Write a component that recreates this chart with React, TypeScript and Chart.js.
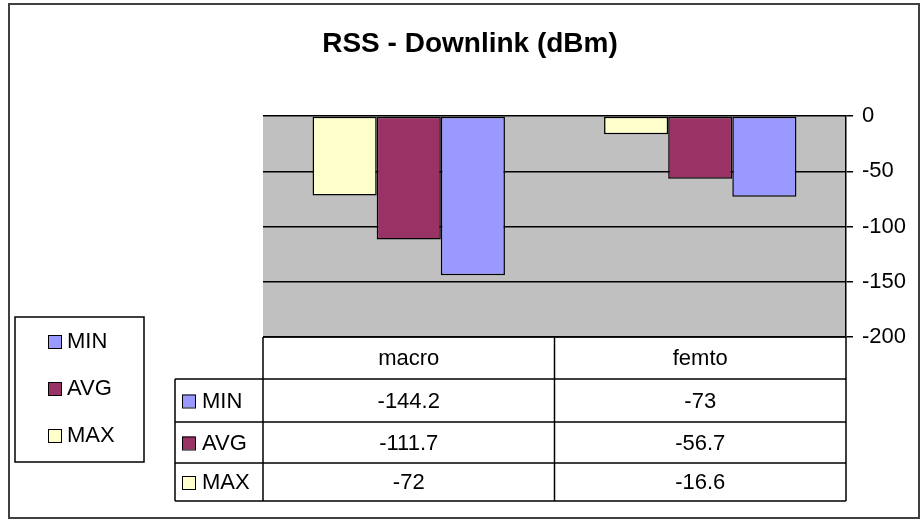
import React, { useEffect, useRef } from "react";
import { Chart, registerables } from "chart.js";

Chart.register(...registerables);

const chartTitle = "RSS - Downlink (dBm)";
const categories = ["macro", "femto"];
const seriesNames = ["MIN", "AVG", "MAX"];
const minValues = [-144.2, -73];
const avgValues = [-111.7, -56.7];
const maxValues = [-72, -16.6];
const yMin = -200;
const yMax = 0;
const yStep = 50;

const COLORS: Record<string, string> = {
  MIN: "#9999ff",
  AVG: "#993366",
  MAX: "#ffffcc",
};

const FONT = "Liberation Sans, Arial, sans-serif";

const drawPlugin = {
  id: "excelExtras",
  beforeDraw(chart: any) {
    const { ctx, chartArea } = chart;
    ctx.save();
    ctx.fillStyle = "#ffffff";
    ctx.fillRect(0, 0, chart.width, chart.height);
    ctx.fillStyle = "#c0c0c0";
    ctx.fillRect(chartArea.left, chartArea.top, chartArea.right - chartArea.left, chartArea.bottom - chartArea.top);
    ctx.restore();
  },
  afterDraw(chart: any) {
    const { ctx, chartArea } = chart;
    const x = chart.scales.x;
    ctx.save();

    // outer frame
    ctx.strokeStyle = "#404040";
    ctx.lineWidth = 2;
    ctx.strokeRect(9, 4, 910, 514);

    // title
    ctx.fillStyle = "#000";
    ctx.font = `bold 28px ${FONT}`;
    ctx.textAlign = "center";
    ctx.textBaseline = "middle";
    ctx.fillText(chartTitle, 470, 44);

    // data table
    const n = categories.length;
    const catW = (chartArea.right - chartArea.left) / n;
    const top = chartArea.bottom;
    const rowH = [42, 43, 41, 38];
    const rowTops: number[] = [top];
    for (const h of rowH) rowTops.push(rowTops[rowTops.length - 1] + h);
    const tableBottom = rowTops[rowTops.length - 1];
    const labelLeft = 175;

    ctx.strokeStyle = "#000";
    ctx.lineWidth = 1.5;
    ctx.beginPath();
    ctx.moveTo(chartArea.left, rowTops[0]);
    ctx.lineTo(chartArea.right, rowTops[0]);
    for (let i = 1; i < rowTops.length; i++) {
      ctx.moveTo(labelLeft, rowTops[i]);
      ctx.lineTo(chartArea.right, rowTops[i]);
    }
    ctx.moveTo(labelLeft, rowTops[1]);
    ctx.lineTo(labelLeft, tableBottom);
    for (let i = 0; i <= n; i++) {
      const vx = chartArea.left + i * catW;
      ctx.moveTo(vx, rowTops[0]);
      ctx.lineTo(vx, tableBottom);
    }
    ctx.stroke();

    ctx.font = `22px ${FONT}`;
    ctx.fillStyle = "#000";
    ctx.textAlign = "center";
    ctx.textBaseline = "middle";
    categories.forEach((c, i) => {
      const cx = x.getPixelForValue(i);
      ctx.fillText(c, cx, (rowTops[0] + rowTops[1]) / 2 + 1);
    });
    const valuesByName: Record<string, number[]> = {
      MIN: minValues,
      AVG: avgValues,
      MAX: maxValues,
    };
    seriesNames.forEach((name, r) => {
      const cy = (rowTops[r + 1] + rowTops[r + 2]) / 2 + 1;
      ctx.fillStyle = COLORS[name];
      ctx.fillRect(182, cy - 7, 13, 13);
      ctx.lineWidth = 1;
      ctx.strokeStyle = "#000";
      ctx.strokeRect(182.5, cy - 6.5, 13, 13);
      ctx.fillStyle = "#000";
      ctx.textAlign = "left";
      ctx.fillText(name, 202, cy);
      ctx.textAlign = "center";
      valuesByName[name].forEach((v, i) => {
        ctx.fillText(String(v), x.getPixelForValue(i), cy);
      });
    });

    // legend box
    ctx.lineWidth = 1.5;
    ctx.strokeStyle = "#000";
    ctx.strokeRect(15, 317, 129, 145);
    const legY = [342, 389, 436];
    seriesNames.forEach((name, i) => {
      const cy = legY[i];
      ctx.fillStyle = COLORS[name];
      ctx.fillRect(48, cy - 7, 13, 13);
      ctx.lineWidth = 1;
      ctx.strokeStyle = "#000";
      ctx.strokeRect(48.5, cy - 6.5, 13, 13);
      ctx.fillStyle = "#000";
      ctx.textAlign = "left";
      ctx.textBaseline = "middle";
      ctx.font = `22px ${FONT}`;
      ctx.fillText(name, 67, cy);
    });

    ctx.restore();
  },
};

export default function App() {
  const ref = useRef<HTMLCanvasElement | null>(null);
  useEffect(() => {
    if (!ref.current) return;
    const chart = new Chart(ref.current, {
      type: "bar",
      data: {
        labels: categories,
        datasets: [
          { label: "MAX", data: maxValues, backgroundColor: COLORS.MAX, borderColor: "#000", borderWidth: 1.5, borderSkipped: false },
          { label: "AVG", data: avgValues, backgroundColor: COLORS.AVG, borderColor: "#000", borderWidth: 1.5, borderSkipped: false },
          { label: "MIN", data: minValues, backgroundColor: COLORS.MIN, borderColor: "#000", borderWidth: 1.5, borderSkipped: false },
        ],
      },
      options: {
        responsive: false,
        animation: false,
        devicePixelRatio: 1,
        layout: { padding: { top: 116, left: 263, bottom: 183, right: 0 } },
        plugins: {
          legend: { display: false },
          title: { display: false },
          tooltip: { enabled: false },
        },
        datasets: {
          bar: { categoryPercentage: 0.66, barPercentage: 1 },
        },
        scales: {
          x: {
            display: false,
            offset: true,
          },
          y: {
            position: "right",
            min: yMin,
            max: yMax,
            ticks: {
              stepSize: yStep,
              color: "#000",
              font: { family: FONT, size: 22 },
              padding: 9,
            },
            grid: {
              color: "#000",
              lineWidth: 1.5,
              drawTicks: true,
              tickLength: 7,
              tickColor: "#000",
            },
            border: { display: true, color: "#000", width: 1.5 },
            afterFit(scale: any) {
              scale.width = 76;
            },
          },
        },
      },
      plugins: [drawPlugin],
    });
    return () => chart.destroy();
  }, []);
  return (
    <div style={{ position: "fixed", left: 0, top: 0, width: 922, height: 520, background: "#fff" }}>
      <canvas ref={ref} width={922} height={520} style={{ display: "block" }} />
    </div>
  );
}
